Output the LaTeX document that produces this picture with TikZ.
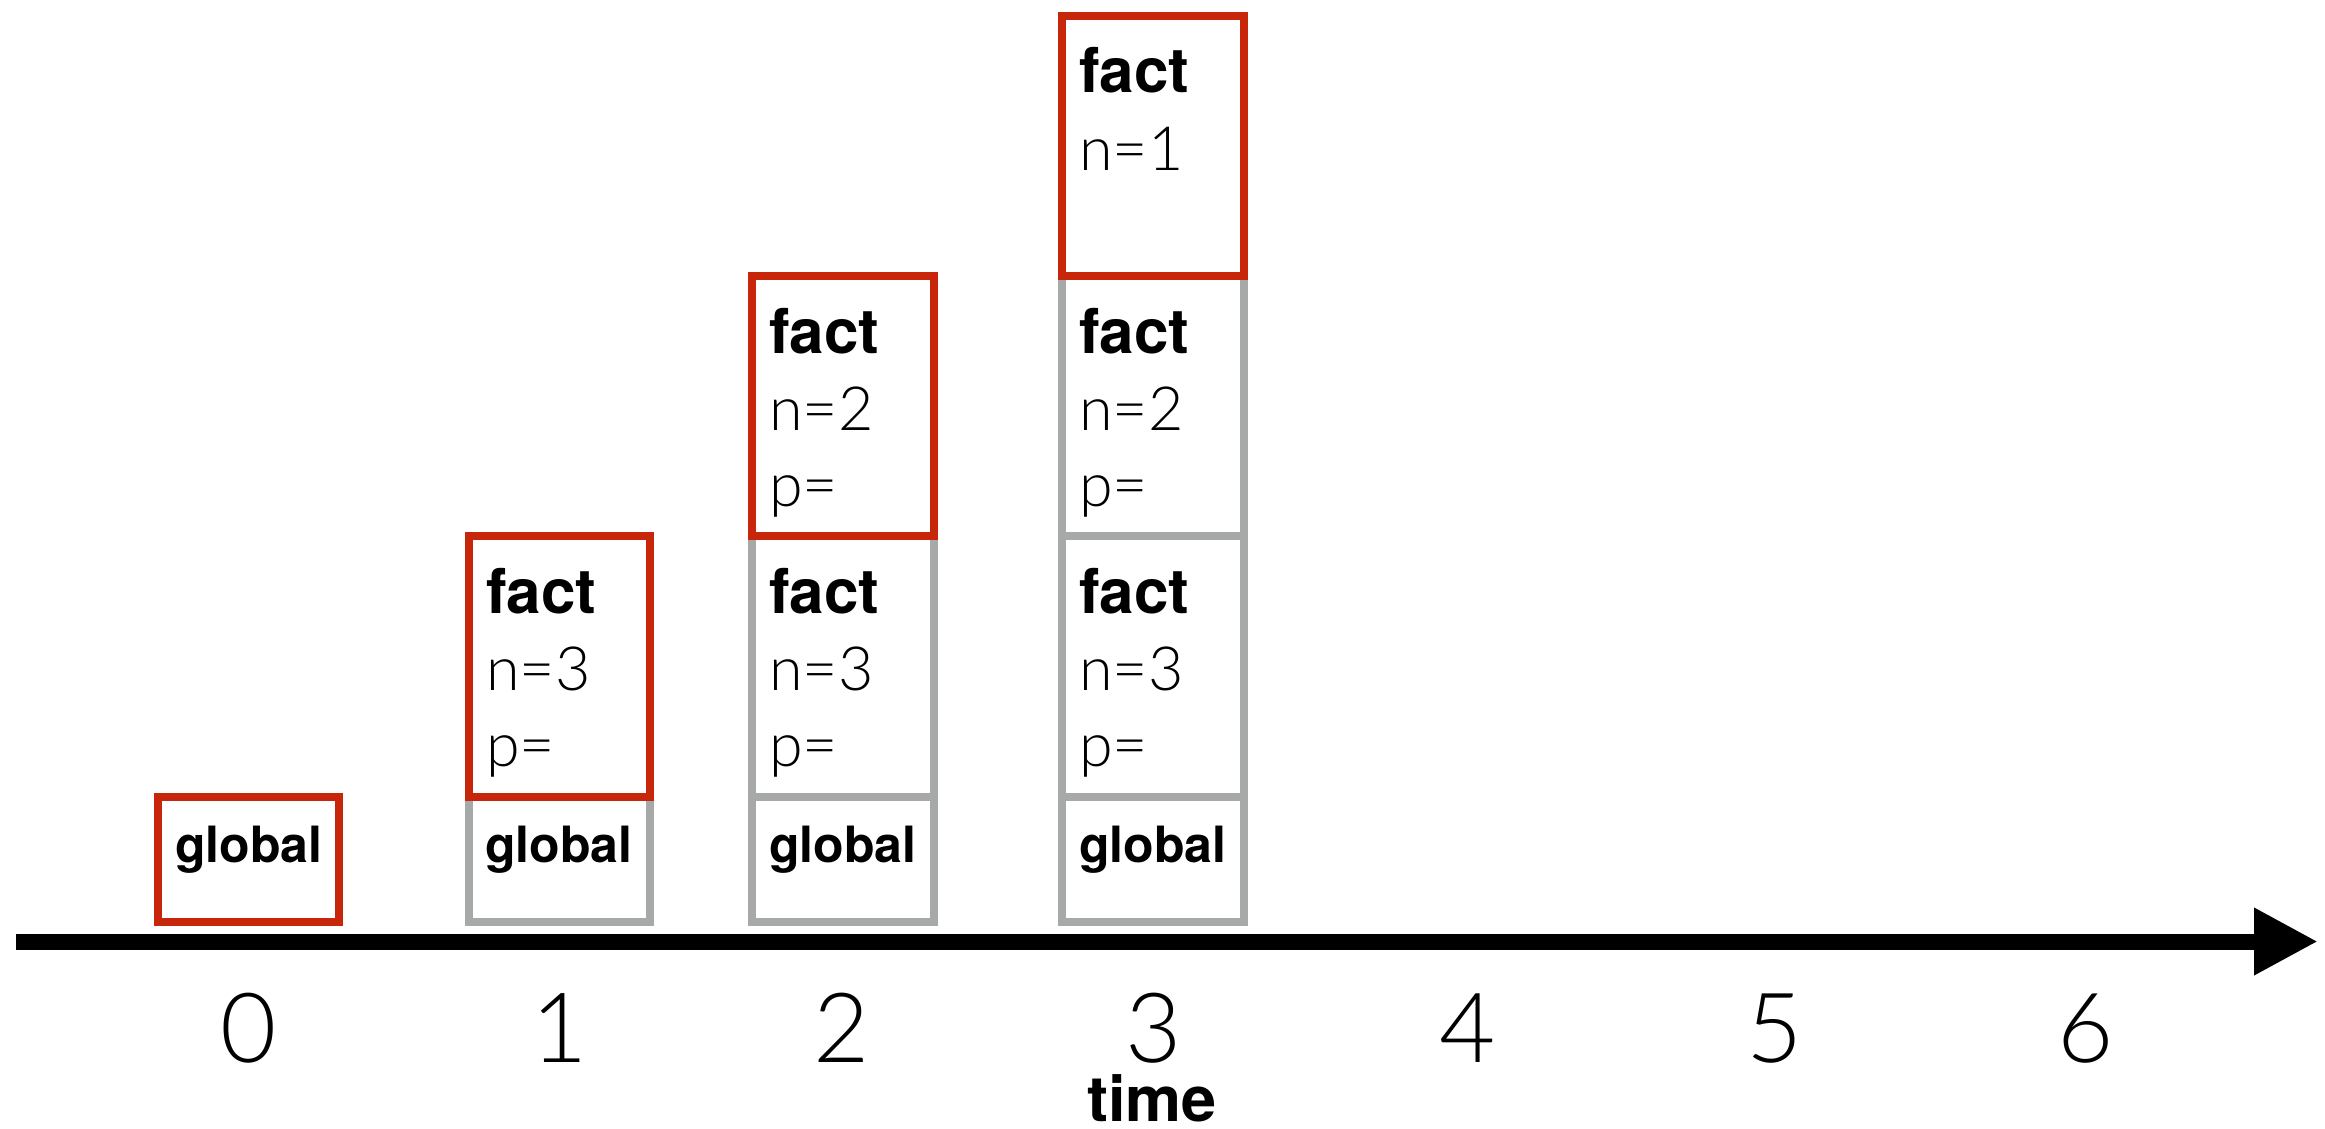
\documentclass[tikz,border=0pt]{standalone}
\usepackage{fontspec}
\setmainfont{TeX Gyre Heros}
\newfontfamily\lightfont{Lato Light}
\usetikzlibrary{arrows.meta}
\definecolor{framered}{RGB}{200,38,10}
\definecolor{framegray}{RGB}{166,169,168}
\begin{document}
\begin{tikzpicture}[x=1pt,y=-1pt,
  frame/.style={draw, line width=8pt, inner sep=0pt, outer sep=0pt, anchor=north west},
  redframe/.style={frame, draw=framered},
  grayframe/.style={frame, draw=framegray},
  boldtxt/.style={font=\fontsize{62}{62}\selectfont\bfseries, inner sep=0pt, anchor=base west},
  globtxt/.style={font=\fontsize{50}{50}\selectfont\bfseries, inner sep=0pt, anchor=base west},
  lighttxt/.style={font=\fontsize{61}{61}\selectfont\lightfont, inner sep=0pt, anchor=base west},
  ticktxt/.style={font=\fontsize{97}{97}\selectfont\lightfont, inner sep=0pt, anchor=base},
  timetxt/.style={font=\fontsize{63}{63}\selectfont\bfseries, inner sep=0pt, anchor=base},
  axis/.style={line width=16pt, -{Triangle[length=64pt,width=63pt]}}
]
\useasboundingbox (0,0) rectangle (2325,1128);

% ---- column 0
\node[redframe, minimum width=181pt, minimum height=125pt] (g0) at (158,797) {};
\node[globtxt] (g0t) at (175,862) {global};

% ---- column 1
\node[grayframe, minimum width=181pt, minimum height=125pt] (g1) at (469,797) {};
\node[globtxt] (g1t) at (485,862) {global};
\node[redframe, minimum width=181pt, minimum height=261pt] (f13) at (469,536) {};
\node[boldtxt] (f13a) at (486,613) {fact};
\node[lighttxt] (f13b) at (486,690) {n=3};
\node[lighttxt] (f13c) at (486,766) {p=};

% ---- column 2
\node[grayframe, minimum width=182pt, minimum height=125pt] (g2) at (752,797) {};
\node[globtxt] (g2t) at (769,862) {global};
\node[grayframe, minimum width=182pt, minimum height=261pt] (f23) at (752,536) {};
\node[boldtxt] (f23a) at (769,613) {fact};
\node[lighttxt] (f23b) at (769,690) {n=3};
\node[lighttxt] (f23c) at (769,766) {p=};
\node[redframe, minimum width=182pt, minimum height=260pt] (f22) at (752,276) {};
\node[boldtxt] (f22a) at (769,353) {fact};
\node[lighttxt] (f22b) at (769,430) {n=2};
\node[lighttxt] (f22c) at (769,506) {p=};

% ---- column 3
\node[grayframe, minimum width=182pt, minimum height=125pt] (g3) at (1062,797) {};
\node[globtxt] (g3t) at (1079,862) {global};
\node[grayframe, minimum width=182pt, minimum height=261pt] (f33) at (1062,536) {};
\node[boldtxt] (f33a) at (1079,613) {fact};
\node[lighttxt] (f33b) at (1079,690) {n=3};
\node[lighttxt] (f33c) at (1079,766) {p=};
\node[grayframe, minimum width=182pt, minimum height=260pt] (f32) at (1062,276) {};
\node[boldtxt] (f32a) at (1079,353) {fact};
\node[lighttxt] (f32b) at (1079,430) {n=2};
\node[lighttxt] (f32c) at (1079,506) {p=};
\node[redframe, minimum width=182pt, minimum height=260pt] (f31) at (1062,16) {};
\node[boldtxt] (f31a) at (1079,92) {fact};
\node[lighttxt] (f31b) at (1079,170) {n=1};

% ---- axis
\coordinate (axstart) at (16,941.5);
\coordinate (axend) at (2318,941.5);
\draw[axis] (axstart) -- (axend);

\node[ticktxt] (t0) at (249,1062) {0};
\node[ticktxt] (t1) at (560,1062) {1};
\node[ticktxt] (t2) at (842,1062) {2};
\node[ticktxt] (t3) at (1154,1062) {3};
\node[ticktxt] (t4) at (1468,1062) {4};
\node[ticktxt] (t5) at (1775,1062) {5};
\node[ticktxt] (t6) at (2086,1062) {6};
\node[timetxt] (time) at (1152,1121) {time};
\end{tikzpicture}
\end{document}
